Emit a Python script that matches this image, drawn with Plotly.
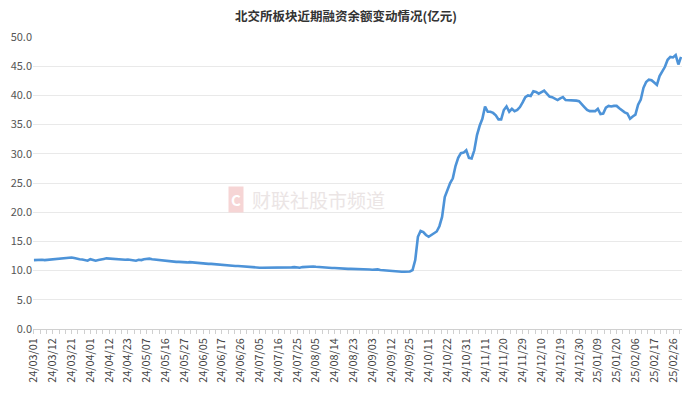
import pandas as pd
import plotly.graph_objects as go

TITLE = "北交所板块近期融资余额变动情况(亿元)"

# Trading calendar (Beijing Stock Exchange), 2024-03-01 .. 2025-03-03
START, END = "2024-03-01", "2025-03-03"
HOLIDAYS = ["2024-04-04", "2024-04-05", "2024-05-01", "2024-05-02", "2024-05-03",
            "2024-06-10", "2024-09-16", "2024-09-17", "2024-10-01", "2024-10-02",
            "2024-10-03", "2024-10-04", "2024-10-07", "2025-01-01", "2025-01-28",
            "2025-01-29", "2025-01-30", "2025-01-31", "2025-02-03", "2025-02-04"]

# Margin financing balance (亿元)
BALANCE = [
    11.8, 11.85, 11.8, 11.85, 11.8, 11.85, 11.9, 11.95, 11.95, 12.0,
    12.05, 12.05, 12.1, 12.2, 12.25, 12.15, 12.0, 11.95, 11.9, 11.8,
    11.7, 11.95, 11.85, 11.7, 11.8, 11.95, 12.0, 12.1, 12.05, 12.0,
    11.95, 11.95, 11.9, 11.9, 11.85, 11.9, 11.8, 11.75, 11.7, 11.85,
    11.8, 11.95, 12.05, 12.05, 11.95, 11.9, 11.8, 11.7, 11.65, 11.6,
    11.55, 11.5, 11.5, 11.5, 11.5, 11.45, 11.45, 11.4, 11.45, 11.4,
    11.3, 11.25, 11.25, 11.2, 11.2, 11.15, 11.15, 11.1, 11.05, 11.0,
    10.95, 10.95, 10.9, 10.85, 10.85, 10.8, 10.8, 10.75, 10.7, 10.7,
    10.65, 10.6, 10.55, 10.55, 10.5, 10.5, 10.5, 10.45, 10.45, 10.45,
    10.5, 10.45, 10.5, 10.55, 10.5, 10.5, 10.55, 10.6, 10.55, 10.5,
    10.6, 10.65, 10.7, 10.75, 10.7, 10.65, 10.6, 10.55, 10.5, 10.55,
    10.5, 10.45, 10.45, 10.4, 10.4, 10.35, 10.35, 10.3, 10.3, 10.3,
    10.25, 10.2, 10.2, 10.2, 10.25, 10.2, 10.15, 10.2, 10.2, 10.1,
    10.05, 10.0, 10.0, 9.95, 9.9, 9.85, 9.85, 9.8, 9.8, 9.8,
    9.85, 10.1, 11.8, 15.8, 16.8, 16.6, 16.1, 15.8, 16.1, 16.4,
    16.7, 17.6, 19.2, 22.6, 23.8, 25.0, 25.8, 27.9, 29.3, 30.1,
    30.2, 30.6, 29.3, 29.2, 30.6, 33.2, 34.8, 36.0, 38.1, 37.2,
    37.2, 37.0, 36.6, 35.9, 35.9, 37.5, 38.1, 37.2, 37.7, 37.3,
    37.5, 38.0, 38.8, 39.7, 40.0, 39.9, 40.7, 40.6, 40.3, 40.6,
    40.8, 40.3, 39.8, 39.7, 39.4, 39.2, 39.5, 39.7, 39.2, 39.2,
    39.1, 39.2, 39.1, 39.0, 38.4, 38.0, 37.5, 37.3, 37.3, 37.3,
    37.7, 36.8, 36.9, 37.9, 38.2, 38.1, 38.2, 38.2, 37.8, 37.4,
    37.1, 36.9, 36.0, 36.4, 36.7, 38.4, 39.3, 41.3, 42.3, 42.7,
    42.6, 42.2, 41.8, 43.3, 44.1, 44.9, 46.1, 46.6, 46.5, 46.9,
    45.3, 46.6,
]

LABEL_STEP = 7
Y_TICKS = [0, 5, 10, 15, 20, 25, 30, 35, 40, 45, 50]

dates = [d for d in pd.bdate_range(START, END) if d.strftime("%Y-%m-%d") not in HOLIDAYS]
categories = [d.strftime("%y/%m/%d") for d in dates]
n = min(len(categories), len(BALANCE))
categories = categories[:n]
values = BALANCE[:n]
idx = list(range(n))

font_family = "Noto Sans CJK SC, Noto Sans, sans-serif"

# page body has an 8px default margin; figure sized to fit the 692x397 window
W, H = 676, 381

fig = go.Figure()
fig.add_trace(go.Scatter(
    x=idx, y=values, mode="lines",
    line=dict(color="#4d93d8", width=2.6),
    customdata=categories,
    hovertemplate="%{customdata}<br>%{y:.2f}<extra></extra>",
))

# watermark
fig.add_annotation(
    xref="paper", yref="paper", x=0.334, y=0.442, xanchor="left", yanchor="middle",
    text="财联社股市频道", showarrow=False,
    font=dict(family=font_family, size=19, color="#ebe5e5"),
)
fig.add_annotation(
    xref="paper", yref="paper", x=0.313, y=0.442, xanchor="center", yanchor="middle",
    text="<b>C</b>", showarrow=False, bgcolor="#f6d5d5",
    font=dict(family=font_family, size=15, color="#ffffff"),
    borderpad=2,
)

fig.update_layout(
    width=W, height=H,
    margin=dict(l=25, r=2, t=29, b=60),
    paper_bgcolor="white", plot_bgcolor="white",
    showlegend=False,
    font=dict(family=font_family, size=11, color="#555"),
    title=dict(
        text="<b>" + TITLE + "</b>", x=0.5, xanchor="center", y=1 - 4.5 / H, yanchor="top",
        font=dict(family=font_family, size=12.5, color="#333"),
    ),
)
fig.update_xaxes(
    automargin=False,
    range=[-0.35, n - 1 + 0.35],
    tickmode="array",
    tickvals=idx[::LABEL_STEP],
    ticktext=categories[::LABEL_STEP],
    tickangle=-90,
    tickfont=dict(size=10.8, color="#444"),
    showgrid=False, zeroline=False,
    showline=True, linecolor="#d0d0d0", linewidth=1,
    ticks="outside", ticklen=4, tickcolor="#d0d0d0",
    minor=dict(ticks="outside", tick0=0, dtick=LABEL_STEP / 3, ticklen=4, tickcolor="#d0d0d0"),
)
fig.update_yaxes(
    automargin=False,
    range=[0, 50],
    tickmode="array", tickvals=Y_TICKS, ticktext=[f"{v:.1f}" for v in Y_TICKS],
    tickfont=dict(size=11, color="#555"),
    showgrid=True, gridcolor="#e9e9e9", gridwidth=1,
    zeroline=False, showline=False, ticks="",
)

fig.write_html("out.html")
